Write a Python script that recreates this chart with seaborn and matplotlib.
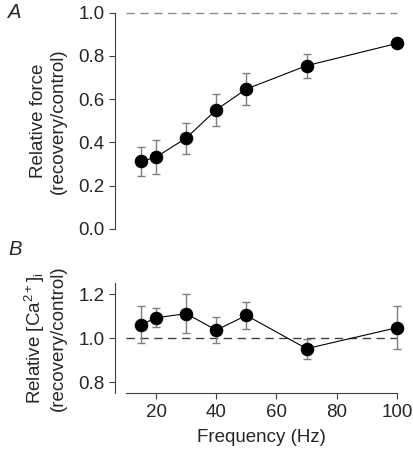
import numpy as np
import pandas as pd
import seaborn as sns
import matplotlib.pyplot as plt

freq = [15, 20, 30, 40, 50, 70, 100]
force = [0.312, 0.332, 0.420, 0.551, 0.647, 0.755, 0.858]
force_err = [0.068, 0.078, 0.072, 0.075, 0.074, 0.055, 0.015]
calcium = [1.061, 1.092, 1.111, 1.036, 1.103, 0.952, 1.047]
calcium_err = [0.083, 0.044, 0.090, 0.060, 0.060, 0.045, 0.097]

sns.set_style("ticks")
plt.rcParams['font.family'] = ['Liberation Sans', 'DejaVu Sans']
plt.rcParams['mathtext.fontset'] = 'custom'
plt.rcParams['mathtext.rm'] = 'Liberation Sans'
plt.rcParams['mathtext.it'] = 'Liberation Sans:italic'

fig = plt.figure(figsize=(4.13, 4.55), dpi=100)
ax1 = fig.add_axes([0.305, 0.497, 0.656, 0.475])
ax2 = fig.add_axes([0.305, 0.136, 0.656, 0.242])

fs = 13.5


def panel(ax, y, err):
    df = pd.DataFrame({'freq': freq, 'val': y})
    ax.errorbar(freq, y, yerr=err, fmt='none', ecolor='#7f7f7f', elinewidth=1.0,
                capsize=3, capthick=1.0, zorder=2, clip_on=False)
    sns.lineplot(data=df, x='freq', y='val', ax=ax, color='black', linewidth=0.8,
                 marker='o', markersize=9, markeredgecolor='black', zorder=3,
                 clip_on=False)
    sns.despine(ax=ax)
    ax.set_xlim(10, 100)
    ax.spines['left'].set_position(('outward', 8))
    ax.spines['left'].set_color('#404040')
    ax.spines['bottom'].set_color('#404040')
    ax.tick_params(axis='both', labelsize=fs, length=4, color='#404040')
    ax.set_xlabel('')


panel(ax1, force, force_err)
ax1.axhline(1.0, color='#8c8c8c', linestyle=(0, (6, 4)), linewidth=1.0, zorder=1, clip_on=False)
ax1.set_ylim(0, 1.0)
ax1.set_yticks([0.0, 0.2, 0.4, 0.6, 0.8, 1.0])
ax1.set_yticklabels(['0.0', '0.2', '0.4', '0.6', '0.8', '1.0'])
ax1.spines['bottom'].set_visible(False)
ax1.tick_params(axis='x', bottom=False, labelbottom=False)
ax1.set_ylabel('Relative force\n(recovery/control)', fontsize=fs, labelpad=8, linespacing=1.25)
ax1.text(-0.435, 1.0, 'A', transform=ax1.transAxes, fontsize=fs + 1, style='italic',
         ha='left', va='center')

panel(ax2, calcium, calcium_err)
ax2.axhline(1.0, color='#404040', linestyle=(0, (6, 4)), linewidth=1.0, zorder=1)
ax2.set_ylim(0.75, 1.25)
ax2.set_yticks([0.8, 1.0, 1.2])
ax2.set_yticklabels(['0.8', '1.0', '1.2'])
ax2.set_xticks([20, 40, 60, 80, 100])
ax2.set_xlabel('Frequency (Hz)', fontsize=fs, labelpad=6)
ax2.set_ylabel('Relative [Ca$^{2+}$]$_\\mathrm{i}$\n(recovery/control)', fontsize=fs,
               labelpad=8, linespacing=1.25)
ax2.text(-0.435, 1.30, 'B', transform=ax2.transAxes, fontsize=fs + 1, style='italic',
         ha='left', va='center')

fig.savefig('out.png', dpi=100)
